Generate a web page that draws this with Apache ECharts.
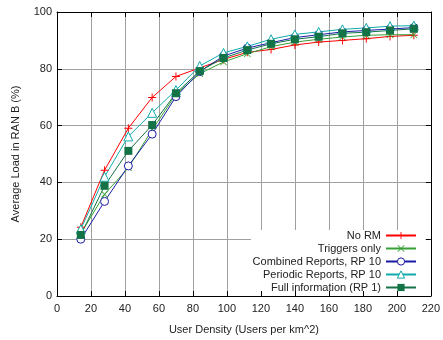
<!DOCTYPE html>
<html>
<head>
<meta charset="utf-8">
<script src="https://cdn.jsdelivr.net/npm/echarts@6/dist/echarts.min.js"></script>
<style>
  html, body { margin: 0; padding: 0; background: #fff; }
  #chart { width: 443px; height: 340px; }
</style>
</head>
<body>
<div id="chart"></div>
<script>
const density = [14, 28, 42, 56, 70, 84, 98, 112, 126, 140, 154, 168, 182, 196, 210];
const noRm = [24.2, 44.3, 59.1, 69.9, 77.3, 80.3, 83.3, 85.8, 86.8, 88.4, 89.4, 90.0, 90.6, 91.4, 91.8];
const triggersOnly = [22.0, 35.8, 45.2, 58.5, 71.0, 78.3, 82.4, 85.3, 87.8, 89.4, 90.4, 91.2, 91.8, 92.0, 92.0];
const combined = [20.0, 33.3, 45.8, 57.0, 70.2, 79.0, 84.5, 87.3, 89.2, 91.0, 92.0, 93.0, 93.5, 94.0, 94.5];
const periodic = [23.5, 42.0, 56.2, 64.5, 72.5, 81.0, 85.6, 87.9, 90.4, 92.1, 93.0, 93.9, 94.4, 95.0, 95.2];
const fullInfo = [21.5, 38.8, 51.1, 60.2, 71.4, 79.2, 83.8, 86.6, 88.8, 90.4, 91.3, 92.5, 92.9, 93.5, 94.1];

const xTicks = { min: 0, max: 220, interval: 20 };
const yTicks = { min: 0, max: 100, interval: 20 };

const font = "'Liberation Sans', Arial, sans-serif";
const plusPath = 'path://M4.4,0H5.6V4.4H10V5.6H5.6V10H4.4V5.6H0V4.4H4.4Z';
const crossPath = 'path://M0,0.85L0.85,0L5,4.15L9.15,0L10,0.85L5.85,5L10,9.15L9.15,10L5,5.85L0.85,10L0,9.15L4.15,5Z';

const pairs = ys => density.map((x, i) => [x, ys[i]]);

const chart = echarts.init(document.getElementById('chart'));

// splitLine-only axes sit under the blank key area, frame axes sit above it
const gridAxis = (t, pos) => ({
  type: 'value', position: pos, ...t, z: 0,
  axisLine: { show: false }, axisTick: { show: false }, axisLabel: { show: false },
  splitLine: { show: true, lineStyle: { color: '#a0a0a0', width: 1 } }
});
const frameAxis = (t, pos, labels) => ({
  type: 'value', position: pos, ...t, z: 3,
  axisLine: { show: true, onZero: false, lineStyle: { color: '#000', width: 1 } },
  axisTick: { show: true, inside: true, length: 5, lineStyle: { color: '#000' } },
  axisLabel: { show: labels, color: '#222', fontSize: 11, fontFamily: font, margin: pos === 'bottom' ? 7 : 5 },
  splitLine: { show: false }
});

const line = (name, data, color, symbol, size, style) => ({
  name, type: 'line', data: pairs(data),
  xAxisIndex: 0, yAxisIndex: 0, z: 2,
  symbol, symbolSize: size,
  lineStyle: { color, width: 1 },
  itemStyle: style || { color },
  emphasis: { disabled: true },
  animation: false
});
const hollow = color => ({ color: '#fff', borderColor: color, borderWidth: 1 });

chart.setOption({
  animation: false,
  grid: { left: 57, right: 10, top: 12, bottom: 41 },
  xAxis: [
    gridAxis(xTicks, 'bottom'),
    Object.assign(frameAxis(xTicks, 'bottom', true), {
      name: 'User Density (Users per km^2)', nameLocation: 'middle', nameGap: 28,
      nameTextStyle: { color: '#222', fontSize: 11, fontFamily: font }
    }),
    frameAxis(xTicks, 'top', false)
  ],
  yAxis: [
    gridAxis(yTicks, 'left'),
    Object.assign(frameAxis(yTicks, 'left', true), {
      name: 'Average Load in RAN B (%)', nameLocation: 'middle', nameGap: 36,
      nameTextStyle: { color: '#222', fontSize: 11, fontFamily: font }
    }),
    frameAxis(yTicks, 'right', false)
  ],
  graphic: [{
    type: 'rect', z: 1, silent: true,
    shape: { x: 251, y: 230, width: 182, height: 69 },
    style: { fill: '#fff' }
  }],
  legend: {
    orient: 'vertical', right: 21, top: 225, z: 4,
    align: 'right', itemWidth: 30, itemHeight: 9, itemGap: 2,
    textStyle: { color: '#222', fontSize: 11, fontFamily: font },
    data: [
      'No RM',
      'Triggers only',
      { name: 'Combined Reports, RP 10', itemStyle: { borderWidth: 1 } },
      { name: 'Periodic Reports, RP 10', itemStyle: { borderWidth: 1 } },
      'Full information (RP 1)'
    ]
  },
  series: [
    line('No RM', noRm, '#ff0000', plusPath, 8),
    line('Triggers only', triggersOnly, '#35a035', crossPath, 7),
    line('Combined Reports, RP 10', combined, '#1a1aa6', 'circle', 8, hollow('#1a1aa6')),
    line('Periodic Reports, RP 10', periodic, '#10aaaa', 'triangle', 9, hollow('#10aaaa')),
    line('Full information (RP 1)', fullInfo, '#137347', 'rect', 8)
  ]
});
</script>
</body>
</html>
